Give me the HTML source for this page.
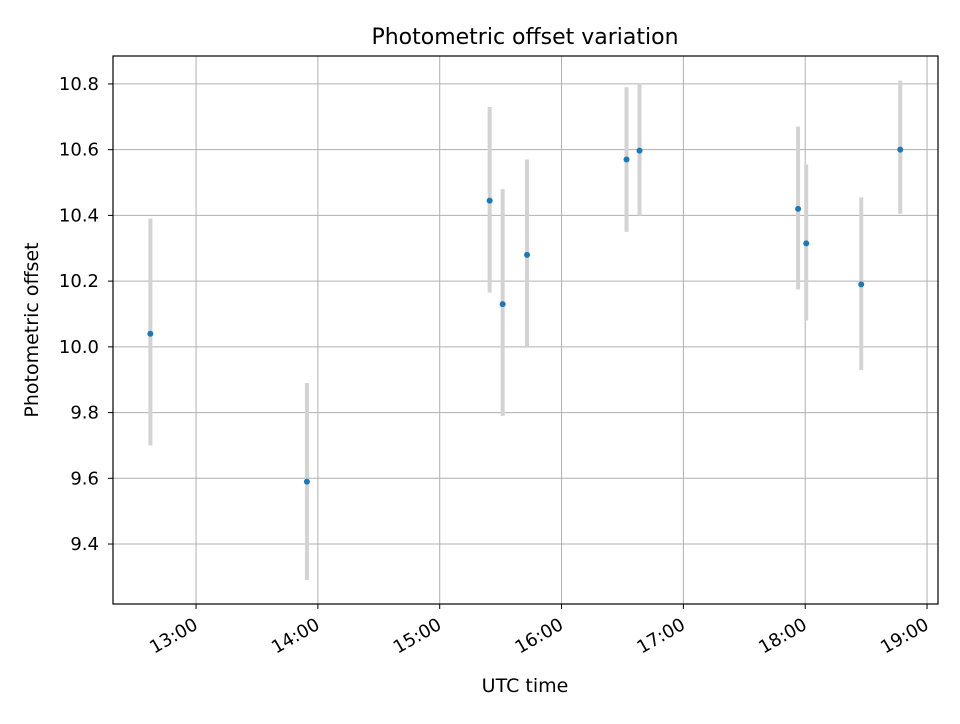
<!DOCTYPE html>
<html><head><meta charset="utf-8"><style>
body{margin:0;background:#fff;font-family:"DejaVu Sans","Liberation Sans",sans-serif;}
svg text{font-family:"DejaVu Sans","Liberation Sans",sans-serif;}
</style></head><body>
<svg id="chart" width="960" height="720" xmlns="http://www.w3.org/2000/svg">
<rect width="960" height="720" fill="#fff"/>
<g id="grid"></g>
<g id="series"></g>
<rect x="113" y="56" width="825" height="548" fill="none" stroke="#000" stroke-width="1.2"/>
<g id="ticks"></g>
<text x="525" y="44" text-anchor="middle" font-size="22">Photometric offset variation</text>
<text x="525" y="692" text-anchor="middle" font-size="19">UTC time</text>
<text transform="translate(38,330) rotate(-90)" text-anchor="middle" font-size="19">Photometric offset</text>
</svg>
<script>
// times in minutes after midnight UTC
const times=[757.5,834.6,924.6,931,943,992,998.4,1076.5,1080.5,1107.6,1126.8];
const values=[10.04,9.59,10.445,10.13,10.28,10.57,10.597,10.42,10.315,10.19,10.60];
const errLow=[9.70,9.29,10.165,9.79,10.0,10.35,10.40,10.175,10.08,9.93,10.405];
const errHigh=[10.39,9.89,10.73,10.48,10.57,10.79,10.80,10.67,10.555,10.455,10.81];
const xTicks=[780,840,900,960,1020,1080,1140];
const xTickLabels=["13:00","14:00","15:00","16:00","17:00","18:00","19:00"];
const yTicks=[9.4,9.6,9.8,10.0,10.2,10.4,10.6,10.8];
const yTickLabels=["9.4","9.6","9.8","10.0","10.2","10.4","10.6","10.8"];
const L=113,R=938,T=56,B=604;
const xmin=739.1,xmax=1145.4,ymin=9.2175,ymax=10.885;
const sx=v=>L+(v-xmin)/(xmax-xmin)*(R-L);
const sy=v=>B-(v-ymin)/(ymax-ymin)*(B-T);
const NS="http://www.w3.org/2000/svg";
function mk(tag,attrs,parent){const e=document.createElementNS(NS,tag);for(const k in attrs)e.setAttribute(k,attrs[k]);document.getElementById(parent).appendChild(e);return e;}
xTicks.forEach((t,i)=>{const x=sx(t);
 const g=mk('line',{x1:x,x2:x,y1:T,y2:B,stroke:'#b0b0b0','stroke-width':1},'grid');
 
 
 const k=mk('line',{x1:x,x2:x,y1:B,y2:B+5,stroke:'#000','stroke-width':1},'ticks');
 
 
 const tx=mk('text',{x:0,y:0,'font-size':18,'text-anchor':'end',transform:`translate(${x+3},${B+24}) rotate(-30)`},'ticks');
 tx.textContent=xTickLabels[i];
 
 
});
yTicks.forEach((t,i)=>{const y=sy(t);
 const g=mk('line',{x1:L,x2:R,y1:y,y2:y,stroke:'#b0b0b0','stroke-width':1},'grid');
 
 
 const k=mk('line',{x1:L-5,x2:L,y1:y,y2:y,stroke:'#000','stroke-width':1},'ticks');
 
 
 const tx=mk('text',{x:L-14,y:y+6,'font-size':18,'text-anchor':'end'},'ticks');
 tx.textContent=yTickLabels[i];
 
 
});
times.forEach((t,i)=>{const x=sx(t);
 const e=mk('line',{x1:x,x2:x,y1:sy(errHigh[i]),y2:sy(errLow[i]),stroke:'#d3d3d3','stroke-width':4},'series');
 
 
});
times.forEach((t,i)=>{
 const c=mk('circle',{cx:sx(t),cy:sy(values[i]),r:3,fill:'#1f77b4'},'series');
 
 
});
</script>
</body></html>
